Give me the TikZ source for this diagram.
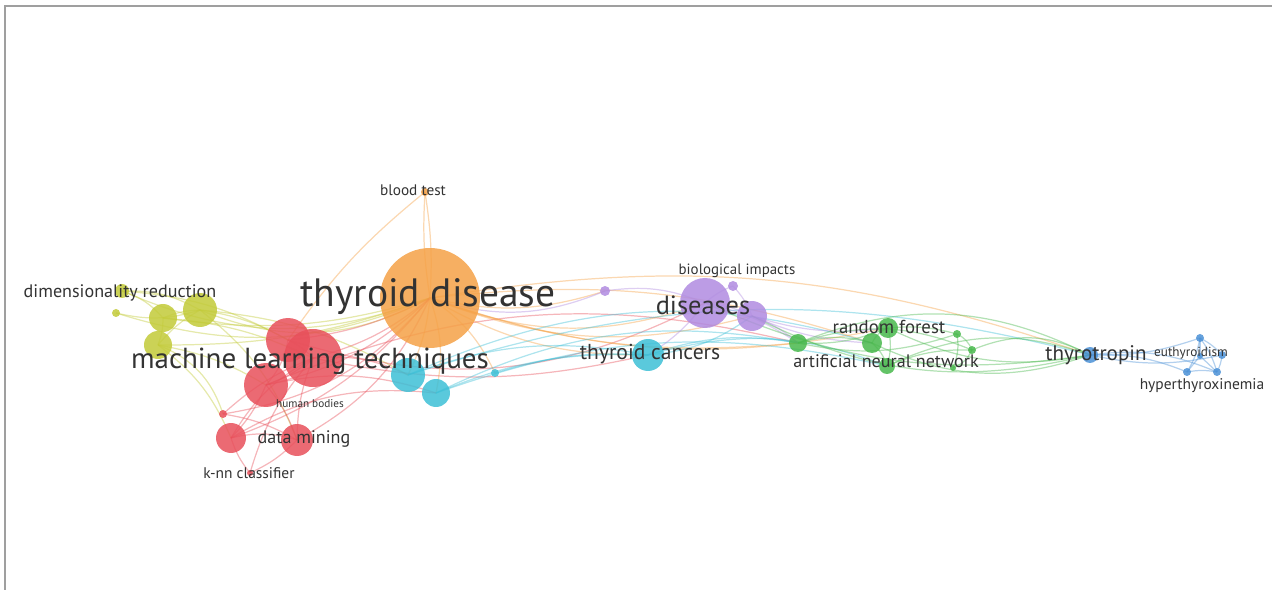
\documentclass[tikz,border=0pt]{standalone}
\usepackage{fontspec}
\setmainfont{PT Sans}
\usepackage{xcolor}
\definecolor{kworange}{HTML}{F5A146}
\definecolor{kwyellow}{HTML}{C2CA38}
\definecolor{kwred}{HTML}{E8505B}
\definecolor{kwcyan}{HTML}{3DBFD6}
\definecolor{kwpurple}{HTML}{B08BE0}
\definecolor{kwgreen}{HTML}{48B84C}
\definecolor{kwblue}{HTML}{4A90D6}
\pgfdeclarelayer{edges}
\pgfsetlayers{edges,main}
\tikzset{
    bubble/.style = {circle, inner sep=0pt, fill opacity=0.85},
    link/.style = {line width=0.7pt, draw opacity=0.42},
    term/.style = {text=black!80, inner sep=0pt, font=\fontsize{#1}{#1}\selectfont},
}

\begin{document}
\begin{tikzpicture}[x=0.02cm, y=-0.02cm]
\useasboundingbox (0,0) rectangle (1272,590);
\draw[gray!75, line width=0.9pt] (5,590) -- (5,6) -- (1272,6);

% keyword bubbles: name/x/y/radius/colour
\foreach \n/\x/\y/\r/\c in {
    td/430/298/50/kworange, bt/425/192/4/kworange,
    dr/122/291/7/kwyellow, ya/116/313/4/kwyellow, yb/163/318/14/kwyellow,
    yc/200/310/17/kwyellow, yd/158/345/14/kwyellow,
    ra/288/340/22/kwred, rb/313/358/29/kwred, rc/266/385/22/kwred,
    rd/223/414/4/kwred, re/231/438/15/kwred, dm/297/440/16/kwred, knn/250/473/3/kwred,
    ca/408/375/17/kwcyan, cb/436/393/14/kwcyan, cc/495/373/4/kwcyan, tc/648/355/16/kwcyan,
    dis/705/303/25/kwpurple, pb/752/316/15/kwpurple, pa/605/291/5/kwpurple, bi/733/286/5/kwpurple,
    ga/798/343/9/kwgreen, gb/872/343/10/kwgreen, rf/888/328/10/kwgreen, gc/887/366/8/kwgreen,
    gd/957/334/4/kwgreen, ge/972/350/4/kwgreen, gf/953/368/3/kwgreen,
    tt/1090/355/8/kwblue, ba/1200/338/4/kwblue, bb/1222/355/4/kwblue,
    bc/1187/372/4/kwblue, bd/1217/372/4/kwblue, be/1200/356/3/kwblue}
    \node[bubble, fill=\c, minimum size=\r*0.04cm] (\n) at (\x,\y) {};

% co-occurrence links
\begin{pgfonlayer}{edges}
\foreach \a/\b/\c/\k in {
    dr/yc/kwyellow/15, dr/yb/kwyellow/15, ya/yc/kwyellow/-15, yb/yc/kwyellow/10, yd/yc/kwyellow/10,
    yb/yd/kwyellow/10, dr/td/kwyellow/-22, yc/td/kwyellow/-25, yb/td/kwyellow/-12, yd/td/kwyellow/-10,
    yc/ra/kwyellow/10, yb/rb/kwyellow/10, yd/rc/kwyellow/10, ya/td/kwyellow/-20, yc/ca/kwyellow/12,
    dr/ra/kwyellow/12, yd/re/kwyellow/15, yc/dm/kwyellow/15,
    ra/rb/kwred/10, rb/rc/kwred/10, ra/rc/kwred/15, rc/re/kwred/10, rc/dm/kwred/10, re/dm/kwred/15,
    rd/dm/kwred/10, rd/rb/kwred/10, knn/re/kwred/10, knn/dm/kwred/-10, knn/rb/kwred/12, re/rb/kwred/15,
    dm/rb/kwred/10, ra/td/kwred/-10, rb/td/kwred/-12, rc/td/kwred/-15, re/td/kwred/-15, dm/td/kwred/-18,
    rb/ca/kwred/15, rc/cb/kwred/15, rb/tc/kwred/-12, ra/dis/kwred/-22, re/cb/kwred/18, rd/td/kwred/-20,
    rc/ga/kwred/18, yd/rd/kwyellow/25,
    td/bt/kworange/6, bt/ra/kworange/-8, bt/td/kworange/6, td/ca/kworange/10, td/cb/kworange/15,
    td/cc/kworange/15, td/tc/kworange/-15,
    td/dis/kworange/-20, td/pa/kworange/-15, td/pb/kworange/-18, td/ga/kworange/-12, td/gb/kworange/12,
    td/rf/kworange/-15, td/tt/kworange/14,
    ca/tc/kwcyan/15, cb/tc/kwcyan/12, cb/ga/kwcyan/18, ca/gb/kwcyan/20, cc/tc/kwcyan/10,
    cb/gc/kwcyan/16, tc/ga/kwcyan/14, ca/tt/kwcyan/16, tc/pb/kwcyan/-15, tc/gc/kwcyan/18,
    dis/pb/kwpurple/10, dis/bi/kwpurple/10, pa/dis/kwpurple/15, dis/ga/kwpurple/10, pb/gb/kwpurple/-10,
    pb/rf/kwpurple/-12, bi/pb/kwpurple/10, pb/ga/kwpurple/10, tc/dis/kwpurple/-10, pa/td/kwpurple/20,
    ga/gb/kwgreen/15, gb/rf/kwgreen/20, rf/gc/kwgreen/15, gb/gc/kwgreen/15, rf/gd/kwgreen/10,
    gd/ge/kwgreen/20, ge/gf/kwgreen/20, gc/ge/kwgreen/12, ga/rf/kwgreen/-12, gb/tt/kwgreen/-22,
    rf/tt/kwgreen/-18, gc/tt/kwgreen/22, ge/tt/kwgreen/25, ga/tt/kwgreen/24, gd/gf/kwgreen/15,
    ga/gd/kwgreen/-15, dis/tt/kwgreen/-16, pb/tt/kwgreen/-20, ga/ge/kwgreen/20,
    tt/ba/kwblue/-10, tt/bc/kwblue/12, tt/bb/kwblue/-12, ba/bb/kwblue/10, ba/bc/kwblue/10,
    ba/bd/kwblue/10, bb/bd/kwblue/10, bc/bd/kwblue/10, be/ba/kwblue/0, be/bc/kwblue/0,
    be/bd/kwblue/0, tt/bd/kwblue/15}
    \draw[link, \c] (\a.center) to[bend left=\k] (\b.center);
\end{pgfonlayer}

% keyword labels
\node[term=22.5pt] (l-td) at (428,297) {thyroid disease};
\node[term=8.7pt] (l-bt) at (413,190) {blood test};
\node[term=10.3pt] (l-dr) at (120,293) {dimensionality reduction};
\node[term=16.5pt] (l-ml) at (310,361) {machine learning techniques};
\node[term=6.4pt] (l-hb) at (310,404) {human bodies};
\node[term=10.3pt] (l-dm) at (304,439) {data mining};
\node[term=8.8pt] (l-knn) at (249,473) {k-nn classifier};
\node[term=15pt] (l-dis) at (703,305) {diseases};
\node[term=8.5pt] (l-bi) at (737,271) {biological impacts};
\node[term=12.3pt] (l-tc) at (650,354) {thyroid cancers};
\node[term=10.7pt] (l-rf) at (889,327) {random forest};
\node[term=10.3pt] (l-ann) at (886,361) {artificial neural network};
\node[term=12pt] (l-tt) at (1096,355) {thyrotropin};
\node[term=7.5pt] (l-eu) at (1191,353) {euthyroidism};
\node[term=8.8pt] (l-hx) at (1202,386) {hyperthyroxinemia};
\end{tikzpicture}
\end{document}
